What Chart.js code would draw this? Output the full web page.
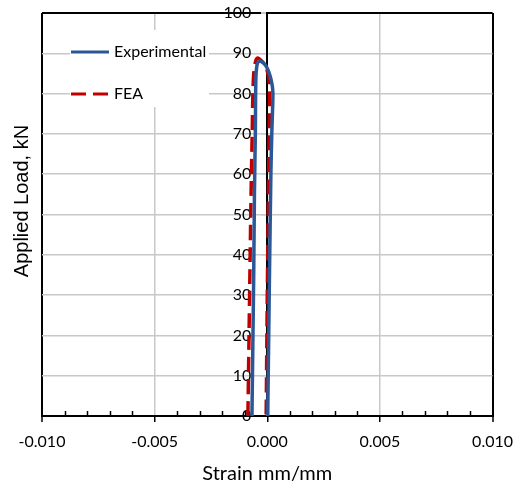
<!DOCTYPE html>
<html>
<head>
<meta charset="utf-8">
<script src="https://cdn.jsdelivr.net/npm/chart.js@4/dist/chart.umd.min.js"></script>
<style>
html,body{margin:0;padding:0;background:#fff;}
#wrap{width:523px;height:490px;position:relative;}
</style>
</head>
<body>
<div id="wrap"><canvas id="c" width="523" height="490"></canvas></div>
<script>
// ---- data ----
const seriesNames = ['Experimental', 'FEA'];
const expStrain = [0.00002, 0.00006, 0.00010, 0.00016, 0.00020, 0.00024, 0.00025, 0.00022, 0.00013, 0.00000, -0.00015, -0.00034, -0.00044, -0.00050, -0.00052, -0.00053, -0.00057, -0.00060, -0.00064, -0.00068];
const expLoad   = [0, 18, 36, 60, 70, 77, 80, 82, 84.3, 86.3, 87.5, 88.1, 87.5, 84.5, 78, 70, 55, 36, 18, 0];
const feaStrain = [-0.00086, -0.00081, -0.00077, -0.00072, -0.00067, -0.00064, -0.00060, -0.00052, -0.00045, -0.00035, -0.00020, -0.00005, 0.00006, 0.00010, 0.00008, 0.00004, 0.00000, -0.00005];
const feaLoad   = [0, 20, 36, 55, 70, 80, 85, 88, 88.8, 88.6, 87.8, 86.5, 84, 80, 70, 50, 30, 0];
const xMin = -0.010, xMax = 0.010, xStep = 0.005, xMinorStep = 0.001;
const yMin = 0, yMax = 100, yStep = 10;
const xTitle = 'Strain mm/mm';
const yTitle = 'Applied Load, kN';

const toPoints = (xs, ys) => xs.map((x, i) => ({x: x, y: ys[i]}));

// value-axis labels sit to the left of the axis crossing at x = 0
const yLabelGap = {
  id: 'yLabelGap',
  beforeDraw(chart) {
    const s = chart.scales.y;
    const items = s.getLabelItems ? s.getLabelItems() : [];
    items.forEach(it => {
      if (!it._moved && it.options && it.options.translation) {
        it.options.translation[0] -= 16;
        it._moved = true;
      }
    });
  }
};

// minor tick marks on the x axis (Excel-style, inside)
const minorTicks = {
  id: 'minorTicks',
  afterDraw(chart) {
    const xs = chart.scales.x, a = chart.chartArea, ctx = chart.ctx;
    const n = Math.round((xMax - xMin) / xMinorStep);
    ctx.save();
    ctx.strokeStyle = '#000';
    ctx.lineWidth = 1.5;
    for (let i = 1; i < n; i++) {
      if (i % Math.round(xStep / xMinorStep) === 0) continue;
      const px = Math.round(xs.getPixelForValue(xMin + i * xMinorStep)) + 0.5;
      ctx.beginPath();
      ctx.moveTo(px, a.bottom);
      ctx.lineTo(px, a.bottom - 5);
      ctx.stroke();
    }
    ctx.restore();
  }
};

// y-axis title at the left edge (the value axis itself sits at x = 0)
const yTitlePlugin = {
  id: 'yTitlePlugin',
  afterDraw(chart) {
    const a = chart.chartArea, ctx = chart.ctx;
    ctx.save();
    ctx.translate(a.left - 19.5, (a.top + a.bottom) / 2 - 13.5);
    ctx.rotate(-Math.PI / 2);
    ctx.font = '20px "Liberation Sans", Arial, sans-serif';
    ctx.fillStyle = '#000';
    ctx.textAlign = 'center';
    ctx.textBaseline = 'middle';
    ctx.fillText(yTitle, 0, 0);
    ctx.restore();
  }
};

// legend in a white box inside the plot area
const boxLegend = {
  id: 'boxLegend',
  afterDatasetsDraw(chart) {
    const a = chart.chartArea, ctx = chart.ctx;
    ctx.save();
    ctx.fillStyle = '#fff';
    ctx.fillRect(a.left + 28, a.top + 17, 139, 77);
    chart.data.datasets.forEach((ds, i) => {
      const y = a.top + 39 + i * 42;
      ctx.strokeStyle = ds.borderColor;
      ctx.lineWidth = 3;
      ctx.setLineDash(ds.borderDash || []);
      ctx.beginPath();
      ctx.moveTo(a.left + 29, y);
      ctx.lineTo(a.left + 67, y);
      ctx.stroke();
      ctx.setLineDash([]);
      ctx.font = '16px Lato, sans-serif';
      ctx.fillStyle = '#000';
      ctx.textAlign = 'left';
      ctx.textBaseline = 'middle';
      ctx.fillText(ds.label, a.left + 72, y);
    });
    ctx.restore();
  }
};

new Chart(document.getElementById('c'), {
  type: 'scatter',
  data: {
    datasets: [
      {
        label: seriesNames[0],
        data: toPoints(expStrain, expLoad),
        showLine: true,
        borderColor: '#2B5797',
        backgroundColor: '#2B5797',
        borderWidth: 3.5,
        pointRadius: 0,
        tension: 0.25,
        fill: false
      },
      {
        label: seriesNames[1],
        data: toPoints(feaStrain, feaLoad),
        showLine: true,
        borderColor: '#C00000',
        backgroundColor: '#C00000',
        borderWidth: 3.5,
        borderDash: [15, 7],
        pointRadius: 0,
        tension: 0.25,
        fill: false
      }
    ]
  },
  options: {
    responsive: false,
    animation: false,
    devicePixelRatio: 1,
    layout: {padding: {left: 42, right: 28, top: 13, bottom: 0}},
    plugins: {
      legend: {display: false},
      tooltip: {enabled: false}
    },
    scales: {
      x: {
        type: 'linear',
        position: 'bottom',
        min: xMin, max: xMax,
        ticks: {
          stepSize: xStep,
          autoSkip: false,
          maxRotation: 0,
          padding: 10,
          color: '#000',
          font: {family: 'Lato', size: 16},
          callback: v => Number(v).toFixed(3)
        },
        grid: {
          color: c => {
            const v = c.tick ? c.tick.value : 0;
            if (Math.abs(v) < 1e-9) return 'rgba(0,0,0,0)';
            if (Math.abs(Math.abs(v) - xMax) < 1e-9) return '#000';
            return '#C8C8C8';
          },
          lineWidth: c => {
            const v = c.tick ? c.tick.value : 0;
            return Math.abs(Math.abs(v) - xMax) < 1e-9 ? 2 : 1.5;
          },
          tickColor: '#000',
          tickWidth: 1.5,
          tickLength: 6
        },
        border: {color: '#000', width: 2},
        title: {
          display: true,
          text: xTitle,
          color: '#000',
          font: {family: 'Lato', size: 20},
          padding: {top: 0.8, bottom: 4}
        }
      },
      y: {
        type: 'linear',
        position: {x: 0},
        min: yMin, max: yMax,
        ticks: {
          stepSize: yStep,
          padding: 0,
          color: '#000',
          font: {family: 'Lato', size: 16}
        },
        grid: {
          color: c => (c.tick && c.tick.value === yMax) ? '#000' : '#C8C8C8',
          lineWidth: c => (c.tick && c.tick.value === yMax) ? 2 : 1.5,
          tickColor: '#C8C8C8',
          tickLength: 5
        },
        border: {color: '#000', width: 2}
      }
    }
  },
  plugins: [yLabelGap, minorTicks, boxLegend, yTitlePlugin]
});
</script>
</body>
</html>
